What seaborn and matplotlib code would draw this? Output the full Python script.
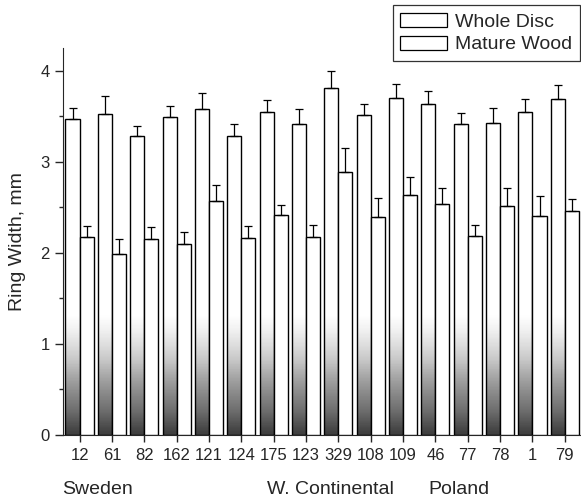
import numpy as np
import pandas as pd
import seaborn as sns
import matplotlib.pyplot as plt
from matplotlib.patches import Rectangle

# 데이터: 지역별 연륜폭 (mm)
sites = ["12", "61", "82", "162", "121", "124", "175", "123",
         "329", "108", "109", "46", "77", "78", "1", "79"]
whole_disc = [3.47, 3.53, 3.28, 3.49, 3.58, 3.28, 3.55, 3.42,
              3.81, 3.51, 3.70, 3.64, 3.41, 3.43, 3.55, 3.69]
whole_disc_err = [0.12, 0.19, 0.11, 0.12, 0.18, 0.13, 0.13, 0.16,
                  0.19, 0.13, 0.15, 0.14, 0.13, 0.16, 0.14, 0.15]
mature_wood = [2.17, 1.99, 2.15, 2.10, 2.57, 2.16, 2.42, 2.17,
               2.89, 2.39, 2.64, 2.54, 2.19, 2.52, 2.40, 2.46]
mature_wood_err = [0.13, 0.16, 0.13, 0.13, 0.18, 0.13, 0.11, 0.14,
                   0.26, 0.21, 0.19, 0.17, 0.12, 0.19, 0.22, 0.13]
series = ["Whole Disc", "Mature Wood"]
regions = ["Sweden", "W. Continental", "Poland"]


def main():
    sns.set_style("ticks")
    plt.rcParams["font.family"] = ["Liberation Sans", "DejaVu Sans"]

    df = pd.DataFrame({
        "site": sites * 2,
        "value": whole_disc + mature_wood,
        "series": [series[0]] * len(sites) + [series[1]] * len(sites),
    })

    fig = plt.figure(figsize=(5.81, 5.0), dpi=100)
    ax = fig.add_axes([0.108, 0.13, 0.892, 0.774])

    sns.barplot(data=df, x="site", y="value", hue="series", order=sites,
                hue_order=series, palette=["white", "white"], width=0.87,
                edgecolor="black", linewidth=1.0, errorbar=None,
                legend=False, ax=ax)

    # 에러바 (위쪽만)
    errs = [whole_disc_err, mature_wood_err]
    vals = [whole_disc, mature_wood]
    for cont, e, v in zip(ax.containers, errs, vals):
        xs = [p.get_x() + p.get_width() / 2 for p in cont.patches]
        ax.errorbar(xs, v, yerr=[np.zeros(len(e)), e], fmt="none",
                    ecolor="black", elinewidth=0.9, capsize=3, capthick=0.9,
                    zorder=4)

    xlim = (-0.52, 15.5)
    ylim = (0, 4.25)

    # 스캔 이미지의 점묘 질감 흉내 (Whole Disc 막대 아래쪽)
    yy = np.linspace(ylim[0], ylim[1], 300)[:, None]
    shade = np.clip(1 - yy / 1.3, 0, 1) ** 0.9
    grad = np.repeat(shade, 2, axis=1)
    for p in ax.containers[0].patches:
        im = ax.imshow(grad, extent=(*xlim, *ylim), origin="lower",
                       cmap="Greys", vmin=0, vmax=1.1, aspect="auto",
                       zorder=2, alpha=0.85)
        im.set_clip_path(p)
        p.set_facecolor("none")
        p.set_zorder(3)
    for p in ax.containers[1].patches:
        p.set_zorder(3)
    ax.set_xlim(*xlim)
    ax.set_ylim(*ylim)

    ax.set_yticks([0, 1, 2, 3, 4])
    ax.set_yticks(np.arange(0.5, 4.25, 1.0), minor=True)
    ax.tick_params(axis="y", which="major", length=6, width=1, labelsize=12)
    ax.tick_params(axis="y", which="minor", length=3, width=1)
    ax.tick_params(axis="x", length=5, width=1, labelsize=12, pad=4)
    ax.set_xlabel("")
    ax.set_ylabel("Ring Width, mm", fontsize=14, labelpad=10)
    sns.despine(ax=ax, top=True, right=True)

    handles = [Rectangle((0, 0), 1, 1, facecolor="white", edgecolor="black",
                         linewidth=0.9) for _ in series]
    leg = fig.legend(handles, series, loc="upper right",
                     bbox_to_anchor=(0.998, 0.99), fontsize=14,
                     frameon=True, fancybox=False, handlelength=2.4,
                     handleheight=0.75, handletextpad=0.4, borderpad=0.4,
                     labelspacing=0.25, borderaxespad=0)
    leg.get_frame().set_edgecolor("black")
    leg.get_frame().set_linewidth(0.9)

    fig.text(0.107, 0.012, regions[0], fontsize=14)
    fig.text(0.46, 0.012, regions[1], fontsize=14)
    fig.text(0.737, 0.012, regions[2], fontsize=14)

    fig.savefig("out.png", dpi=100)


if __name__ == "__main__":
    main()
